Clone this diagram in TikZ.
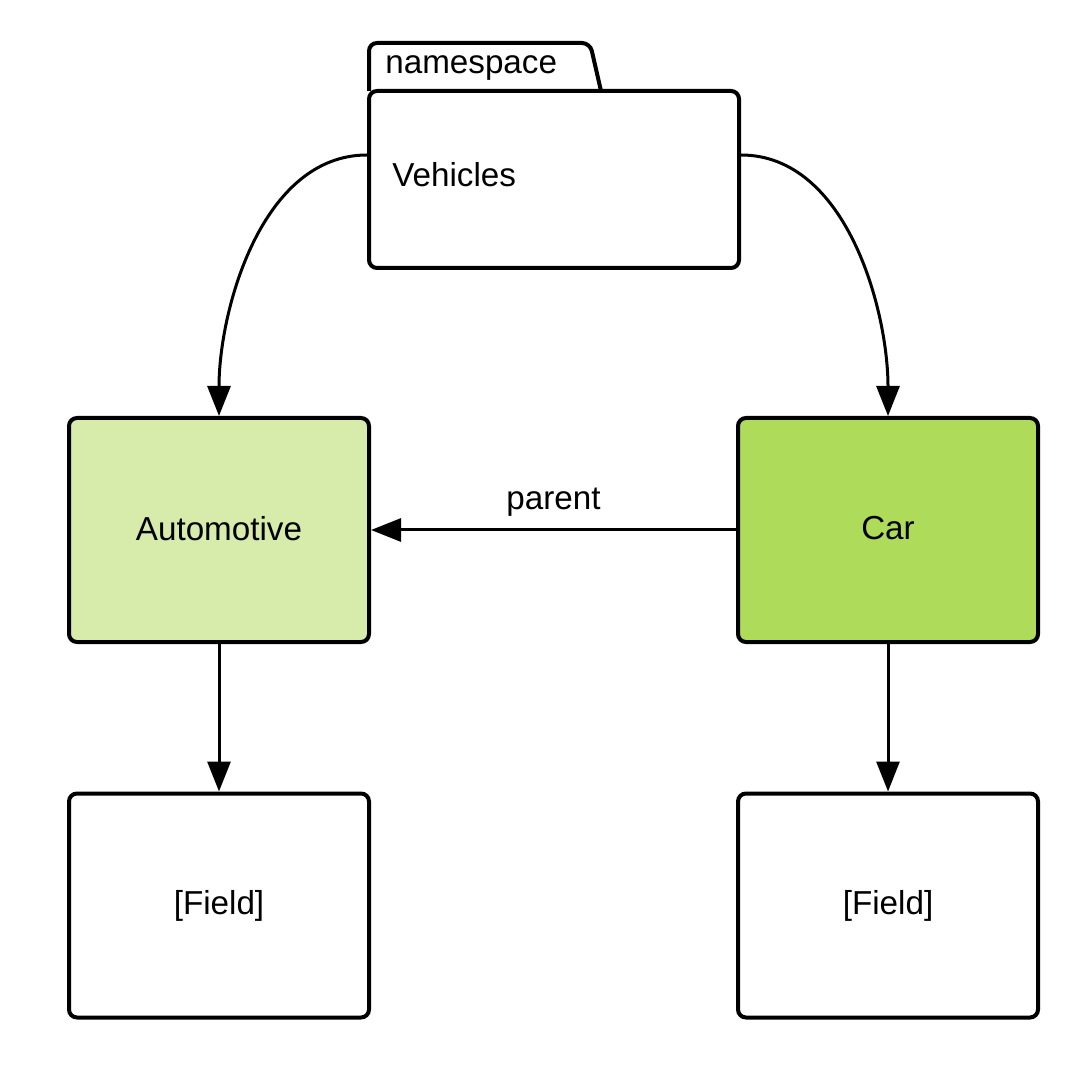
\documentclass[tikz,border=0pt]{standalone}
\usepackage{fontspec}
\setmainfont{Liberation Sans}
\usetikzlibrary{arrows.meta,positioning,calc}
\definecolor{autogreen}{HTML}{D7EBAB}
\definecolor{cargreen}{HTML}{AEDB5A}
\tikzstyle{entity} = [draw, shape=rectangle, rounded corners=0.16cm, line width=0.08cm, minimum width=6cm, minimum height=4.48cm, font=\fontsize{18.9}{22}\selectfont]
\tikzstyle{Arrow} = [-{Triangle[length=0.6cm, width=0.46cm]}, line width=0.06cm]

\begin{document}
\begin{tikzpicture}[font=\fontsize{18.9}{22}\selectfont]
            \useasboundingbox (0,0) rectangle (21.72,21.3);
            %%%%% Namespace package %%%%%
            \draw[line width=0.08cm, rounded corners=0.16cm, fill=white] (7.38,19.48) -- (7.38,20.44) -- (11.8,20.44) -- (12.02,19.48);
            \node (pkg) [entity, fill=white, minimum width=7.4cm, minimum height=3.54cm] at (11.08,17.71) {};
            \node (ns) [anchor=west, inner sep=0pt] at (7.7,19.93) {namespace};
            \node (veh) [anchor=west, inner sep=0pt] at (7.84,17.8) {Vehicles};
            %%%%% Types %%%%%
            \node (auto) [entity, fill=autogreen] at (4.38,10.7) {\raisebox{0.08cm}{Automotive}};
            \node (car) [entity, fill=cargreen] at (17.76,10.7) {\raisebox{0.08cm}{Car}};
            \node (f1) [entity, fill=white] at (4.38,3.19) {[Field]};
            \node (f2) [entity, fill=white] at (17.76,3.19) {[Field]};
            %%%%% Edges %%%%%
            \coordinate (pl) at ($(pkg.west)+(0,0.49)$);
            \coordinate (pr) at ($(pkg.east)+(0,0.49)$);
            \draw [Arrow] (pl) to[out=180, in=90, looseness=0.9] (auto.north);
            \draw [Arrow] (pr) to[out=0, in=90, looseness=0.9] (car.north);
            \draw [Arrow] (car.west) -- node [above, yshift=0.12cm] {parent} (auto.east);
            \draw [Arrow] (auto.south) -- (f1.north);
            \draw [Arrow] (car.south) -- (f2.north);
\end{tikzpicture}
\end{document}
